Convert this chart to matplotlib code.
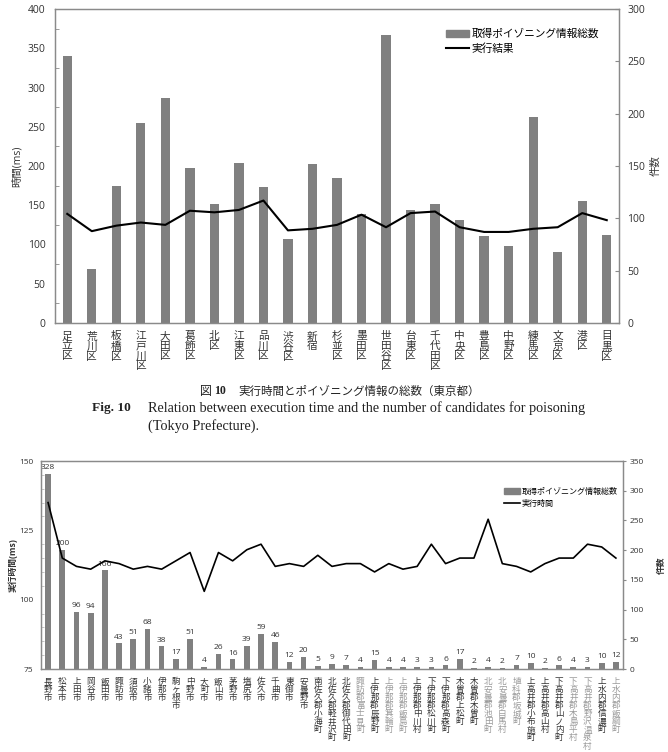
import matplotlib
matplotlib.use("Agg")
import matplotlib.pyplot as plt
from matplotlib.ticker import MultipleLocator
from matplotlib.patches import Patch
from matplotlib.lines import Line2D

plt.rcParams['font.family'] = ['Open Sans', 'Noto Sans CJK JP', 'DejaVu Sans']

# ---------------- data: Tokyo ----------------
tokyo_wards = ["足立区", "荒川区", "板橋区", "江戸川区", "大田区", "葛飾区", "北区", "江東区",
               "品川区", "渋谷区", "新宿", "杉並区", "墨田区", "世田谷区", "台東区", "千代田区",
               "中央区", "豊島区", "中野区", "練馬区", "文京区", "港区", "目黒区"]
tokyo_counts = [255, 52, 131, 191, 215, 148, 114, 153, 130, 80, 152, 139, 104, 275, 108, 114,
                98, 83, 74, 197, 68, 117, 84]
tokyo_time_ms = [139, 117, 124, 128, 125, 143, 141, 144, 156, 118, 120, 125, 138, 122, 140, 142,
                 122, 116, 116, 120, 122, 140, 131]

# ---------------- data: Nagano ----------------
nagano_places = ["長野市", "松本市", "上田市", "岡谷市", "飯田市", "諏訪市", "須坂市", "小諸市",
                 "伊那市", "駒ヶ根市", "中野市", "大町市", "飯山市", "茅野市", "塩尻市", "佐久市",
                 "千曲市", "東御市", "安曇野市", "南佐久郡小海町", "北佐久郡軽井沢町",
                 "北佐久郡御代田町", "諏訪郡富士見町", "上伊那郡辰野町", "上伊那郡箕輪町",
                 "上伊那郡飯島町", "上伊那郡中川村", "下伊那郡松川町", "下伊那郡高森町",
                 "木曽郡上松町", "木曽郡木曽町", "北安曇郡池田町", "北安曇郡白馬村",
                 "埴科郡坂城町", "上高井郡小布施町", "上高井郡高山村", "下高井郡山ノ内町",
                 "下高井郡木島平村", "下高井郡野沢温泉村", "上水内郡信濃町", "上水内郡飯綱町"]
nagano_counts = [328, 200, 96, 94, 166, 43, 51, 68, 38, 17, 51, 4, 26, 16, 39, 59, 46, 12, 20,
                 5, 9, 7, 4, 15, 4, 4, 3, 3, 6, 17, 2, 4, 2, 7, 10, 2, 6, 4, 3, 10, 12]
nagano_time_ms = [135, 115, 112, 111, 114, 113, 111, 112, 111, 114, 117, 103, 117, 114, 118, 120,
                  112, 113, 112, 116, 112, 113, 113, 110, 113, 111, 112, 120, 113, 115, 115, 129,
                  113, 112, 110, 113, 115, 115, 120, 119, 115]
nagano_faded = ["諏訪郡富士見町", "上伊那郡箕輪町", "上伊那郡飯島町", "北安曇郡池田町",
                "北安曇郡白馬村", "埴科郡坂城町", "下高井郡木島平村", "下高井郡野沢温泉村",
                "上水内郡飯綱町"]

legend_bar = "取得ポイゾニング情報総数"
legend_line_top = "実行結果"
legend_line_bottom = "実行時間"

BAR = "#808080"
SPINE = "#8a8a8a"
TXT = "#333333"

W, H = 668, 752
fig = plt.figure(figsize=(W / 100, H / 100), dpi=100)


def px_axes(x0, y0, x1, y1):
    return fig.add_axes([x0 / W, 1 - y1 / H, (x1 - x0) / W, (y1 - y0) / H])


def vert(s):
    return "\n".join(s)


# ================= top chart =================
ax = px_axes(55, 9, 619, 323)
axr = ax.twinx()
xt = list(range(len(tokyo_wards)))
axr.bar(xt, tokyo_counts, width=0.38, color=BAR, zorder=2)
ax.plot(xt, tokyo_time_ms, color="black", lw=1.5, zorder=3)
ax.set_zorder(axr.get_zorder() + 1)
ax.patch.set_visible(False)

ax.set_xlim(-0.5, len(tokyo_wards) - 0.5)
ax.set_ylim(0, 400)
axr.set_ylim(0, 300)
ax.yaxis.set_major_locator(MultipleLocator(50))
ax.yaxis.set_minor_locator(MultipleLocator(25))
axr.yaxis.set_major_locator(MultipleLocator(50))
ax.set_xticks(xt)
ax.set_xticklabels([vert(s) for s in tokyo_wards], fontsize=7.7, linespacing=1.0, va="top",
                   family="Noto Sans CJK JP")
ax.tick_params(axis="x", length=0, pad=6, colors=TXT)
ax.tick_params(axis="y", which="major", length=0, pad=7, labelsize=7.5, colors=TXT)
ax.tick_params(axis="y", which="minor", length=3, direction="in", color=SPINE)
axr.tick_params(axis="y", which="major", length=3, direction="in", pad=6, labelsize=7.5,
                colors=TXT, color=SPINE)
for a in (ax, axr):
    for sp in a.spines.values():
        sp.set_color(SPINE)
        sp.set_linewidth(0.9)
ax.set_ylabel("時間(ms)", fontsize=7.5, color=TXT)
ax.yaxis.set_label_coords(-0.057, 0.5)
axr.set_ylabel("件数", fontsize=7.5, color=TXT, rotation=90)
axr.yaxis.set_label_coords(1.055, 0.5)

handles = [Patch(color=BAR), Line2D([0], [0], color="black", lw=1.5)]
ax.legend(handles, [legend_bar, legend_line_top], loc="upper left",
          bbox_to_anchor=(0.683, 0.955), frameon=False, fontsize=7.7,
          handlelength=2.2, handleheight=0.6, handletextpad=0.2, borderpad=0,
          labelspacing=0.35, prop={"family": "Noto Sans CJK JP", "size": 7.7})

# ================= bottom chart =================
bx = px_axes(41, 461, 623, 669)
bxr = bx.twinx()
xn = list(range(len(nagano_places)))
bars = bxr.bar(xn, nagano_counts, width=0.4, color=BAR, zorder=2)
bxr.bar_label(bars, labels=[str(v) for v in nagano_counts], padding=2, fontsize=6, color=TXT)
bx.plot(xn, nagano_time_ms, color="black", lw=1.2, zorder=3)
bx.set_zorder(bxr.get_zorder() + 1)
bx.patch.set_visible(False)

bx.set_xlim(-0.5, len(nagano_places) - 0.5)
bx.set_ylim(75, 150)
bxr.set_ylim(0, 350)
bx.yaxis.set_major_locator(MultipleLocator(25))
bx.yaxis.set_minor_locator(MultipleLocator(5))
bxr.yaxis.set_major_locator(MultipleLocator(50))
bx.set_xticks(xn)
bx.set_xticklabels([vert(s) for s in nagano_places], fontsize=6.2, linespacing=0.86, va="top",
                   family="Noto Sans CJK JP")
for lab, name in zip(bx.get_xticklabels(), nagano_places):
    lab.set_color("#9a9a9a" if name in nagano_faded else TXT)
bx.tick_params(axis="x", length=0, pad=6)
bx.tick_params(axis="y", which="major", length=0, pad=5.5, labelsize=6, colors=TXT)
bx.tick_params(axis="y", which="minor", length=2, direction="in", color="#bbbbbb")
bxr.tick_params(axis="y", which="major", length=2.5, direction="out", pad=2, labelsize=6,
                colors=TXT, color=SPINE)
for a in (bx, bxr):
    for sp in a.spines.values():
        sp.set_color(SPINE)
        sp.set_linewidth(0.9)
bx.set_ylabel("実行時間(ms)", fontsize=6.3, color=TXT, fontweight="bold")
bx.yaxis.set_label_coords(-0.041, 0.5)
bxr.set_ylabel("件数", fontsize=6.3, color=TXT, rotation=90, fontweight="bold")
bxr.yaxis.set_label_coords(1.059, 0.5)

handles2 = [Patch(color=BAR), Line2D([0], [0], color="black", lw=1.2)]
bx.legend(handles2, [legend_bar, legend_line_bottom], loc="upper left",
          bbox_to_anchor=(0.788, 0.895), frameon=False,
          handlelength=2.0, handleheight=0.6, handletextpad=0.2, borderpad=0,
          labelspacing=0.35, prop={"family": "Noto Sans CJK JP", "size": 5.8})

# ================= caption =================
CAP = "#222222"
fig.text(200 / W, 1 - 391 / H, "図", fontsize=8.6, ha="left", va="center", color=CAP,
         family="Noto Sans CJK JP")
fig.text(214 / W, 1 - 391 / H, "10", fontsize=8.6, ha="left", va="center", color=CAP,
         family="Liberation Serif", fontweight="bold")
fig.text(238 / W, 1 - 391 / H, "実行時間とポイゾニング情報の総数（東京都）", fontsize=8.3,
         ha="left", va="center", color=CAP, family="Noto Sans CJK JP")
fig.text(92 / W, 1 - 408 / H, "Fig. 10", fontsize=9.6, ha="left", va="center",
         family="Liberation Serif", fontweight="bold", color=CAP)
fig.text(148 / W, 1 - 408 / H,
         "Relation between execution time and the number of candidates for poisoning",
         fontsize=10.3, ha="left", va="center", family="Liberation Serif", color=CAP)
fig.text(148 / W, 1 - 426 / H, "(Tokyo Prefecture).", fontsize=10.3, ha="left", va="center",
         family="Liberation Serif", color=CAP)

fig.savefig("out.png", dpi=100)
